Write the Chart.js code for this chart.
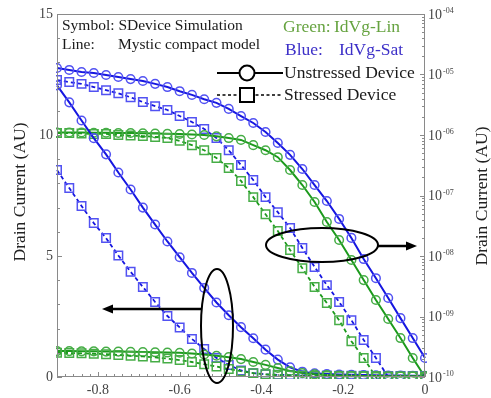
<!DOCTYPE html>
<html>
<head>
<meta charset="utf-8">
<script src="https://cdn.jsdelivr.net/npm/chart.js@4/dist/chart.umd.min.js"></script>
<style>
html,body{margin:0;padding:0;background:#fff;}
#wrap{width:491px;height:398px;}
</style>
</head>
<body>
<div id="wrap"><canvas id="c" width="491" height="398"></canvas></div>
<script>
// Gate voltage (V)
const vg = [-0.9,-0.87,-0.84,-0.81,-0.78,-0.75,-0.72,-0.69,-0.66,-0.63,-0.6,-0.57,-0.54,-0.51,-0.48,-0.45,-0.42,-0.39,-0.36,-0.33,-0.3,-0.27,-0.24,-0.21,-0.18,-0.15,-0.12,-0.09,-0.06,-0.03,0];

// Linear-scale currents (left axis, AU)
const satLinUnstressed = [12.05,11.35,10.6,9.87,9.2,8.45,7.75,7.0,6.3,5.6,4.95,4.3,3.68,3.08,2.55,2.06,1.6,1.13,0.72,0.4,0.22,0.15,0.12,0.1,0.09,0.08,0.07,0.06,0.06,0.05,0.05];
const satLinStressed   = [8.55,7.81,7.07,6.36,5.74,5.02,4.35,3.72,3.1,2.52,2.05,1.57,1.16,0.79,0.5,0.27,0.16,0.11,0.09,0.08,0.07,0.06,0.06,0.05,0.05,0.05,0.04,0.04,0.04,0.04,0.04];
const linLinUnstressed = [1.07,1.07,1.06,1.06,1.05,1.05,1.04,1.03,1.02,1.01,1.0,0.97,0.93,0.88,0.82,0.74,0.62,0.5,0.37,0.25,0.16,0.11,0.08,0.06,0.05,0.04,0.04,0.03,0.03,0.03,0.03];
const linLinStressed   = [1.0,0.99,0.98,0.96,0.94,0.91,0.88,0.85,0.81,0.76,0.7,0.62,0.53,0.43,0.33,0.24,0.16,0.11,0.08,0.06,0.05,0.04,0.04,0.03,0.03,0.03,0.03,0.02,0.02,0.02,0.02];

// Log-scale currents (right axis, AU)
const satLogUnstressed = [1.28e-5,1.19e-5,1.10e-5,1.06e-5,9.8e-6,9.1e-6,8.4e-6,7.8e-6,7.0e-6,6.2e-6,5.3e-6,4.6e-6,3.9e-6,3.4e-6,2.7e-6,2.06e-6,1.58e-6,1.12e-6,7.4e-7,4.7e-7,2.74e-7,1.49e-7,8.1e-8,4.1e-8,1.99e-8,8.9e-9,4.3e-9,2.02e-9,9.4e-10,4.4e-10,2.06e-10];
const satLogStressed   = [8.1e-6,7.5e-6,7.0e-6,6.2e-6,5.5e-6,4.9e-6,4.2e-6,3.5e-6,3.0e-6,2.59e-6,2.06e-6,1.64e-6,1.26e-6,8.9e-7,5.6e-7,3.19e-7,1.80e-7,9.4e-8,5.3e-8,2.9e-8,1.36e-8,6.6e-9,3.3e-9,1.74e-9,8.7e-10,4.1e-10,2.06e-10,1.0e-10,4.8e-11,2.3e-11,1.1e-11];
const linLogUnstressed = [1.1e-6,1.1e-6,1.1e-6,1.09e-6,1.09e-6,1.08e-6,1.08e-6,1.07e-6,1.06e-6,1.05e-6,1.04e-6,1.02e-6,1.0e-6,9.5e-7,8.9e-7,8.3e-7,6.8e-7,5.6e-7,4.3e-7,2.64e-7,1.49e-7,7.8e-8,3.65e-8,1.84e-8,8.6e-9,4.0e-9,1.87e-9,9.1e-10,4.4e-10,2.06e-10,1.0e-10];
const linLogStressed   = [1.08e-6,1.08e-6,1.06e-6,1.04e-6,1.04e-6,1.0e-6,9.8e-7,9.6e-7,9.3e-7,8.9e-7,8.0e-7,6.8e-7,5.6e-7,4.17e-7,2.85e-7,1.74e-7,9.4e-8,4.9e-8,2.59e-8,1.26e-8,6.3e-9,3.08e-9,1.67e-9,8.7e-10,3.9e-10,2.06e-10,1.0e-10,4.8e-11,2.3e-11,1.1e-11,5e-12];

// Ticks
const xTicks = [-0.8,-0.6,-0.4,-0.2,0];
const xTickLabels = ['-0.8','-0.6','-0.4','-0.2','0'];
const yTicks = [0,5,10,15];
const yTickLabels = ['0','5','10','15'];
const y2Ticks = [1e-10,1e-9,1e-8,1e-7,1e-6,1e-5,1e-4];
const y2TickExp = ['-10','-09','-08','-07','-06','-05','-04'];

const SERIF = "'Liberation Serif','Times New Roman',serif";
const BLUE_LINE = '#1616e0', BLUE_MK = '#5252f2';
const GREEN_LINE = '#1c9a1c', GREEN_MK = '#46ad46';

function pts(ys){ return vg.map((x,i)=>({x:x, y:ys[i]})); }
const CLIP = {left:1, right:2, top:0, bottom:2};
function ds(ys, axis, line, mk, stressed){
  return {
    data: pts(ys), yAxisID: axis,
    borderColor: line, borderWidth: stressed ? 1.8 : 2,
    borderDash: stressed ? [4,3] : [],
    pointStyle: stressed ? 'rect' : 'circle',
    pointRadius: stressed ? 6 : 4.3,
    pointBorderColor: mk, pointBackgroundColor: 'rgba(0,0,0,0)',
    pointBorderWidth: 1.5, tension: 0, clip: CLIP
  };
}

const deco = {
  id: 'deco',
  afterDraw(chart){
    const ctx = chart.ctx, a = chart.chartArea;
    const xs = chart.scales.x, ys = chart.scales.y, y2 = chart.scales.y2;
    ctx.save();
    // frame
    ctx.strokeStyle = '#8a8a8a'; ctx.lineWidth = 1;
    ctx.strokeRect(a.left+0.5, a.top+0.5, a.right-a.left-1, a.bottom-a.top-1);
    // inward ticks
    ctx.beginPath();
    for (let k=0;k<=45;k++){ const v=-0.9+k*0.02; const px=Math.round(xs.getPixelForValue(v))+0.5;
      const major = xTicks.some(t=>Math.abs(t-v)<1e-6); ctx.moveTo(px,a.bottom); ctx.lineTo(px,a.bottom-(major?5:3)); }
    for (let k=0;k<=15;k++){ const py=Math.round(ys.getPixelForValue(k))+0.5;
      const major = yTicks.includes(k); ctx.moveTo(a.left,py); ctx.lineTo(a.left+(major?5:3),py); }
    y2Ticks.forEach((t,i)=>{ const py=Math.round(y2.getPixelForValue(t))+0.5; ctx.moveTo(a.right,py); ctx.lineTo(a.right-5,py);
      if (i<y2Ticks.length-1) for (let m=2;m<=9;m++){ const q=Math.round(y2.getPixelForValue(t*m))+0.5; ctx.moveTo(a.right,q); ctx.lineTo(a.right-3,q);} });
    ctx.stroke();
    // right tick labels with superscript exponent
    ctx.fillStyle = '#444'; ctx.textBaseline = 'middle'; ctx.textAlign = 'left';
    y2Ticks.forEach((t,i)=>{ const py=y2.getPixelForValue(t);
      ctx.font = '14px '+SERIF; ctx.fillText('10', a.right+3, py+1);
      const w = ctx.measureText('10').width;
      ctx.font = '8px '+SERIF; ctx.fillText(y2TickExp[i], a.right+3+w+1, py-3); });
    // axis titles
    ctx.font = '17.5px '+SERIF; ctx.fillStyle = '#222'; ctx.textAlign='center'; ctx.textBaseline='middle';
    ctx.save(); ctx.translate(20, 192); ctx.rotate(-Math.PI/2); ctx.fillText('Drain Current (AU)',0,0); ctx.restore();
    ctx.save(); ctx.translate(482, 196); ctx.rotate(-Math.PI/2); ctx.fillText('Drain Current (AU)',0,0); ctx.restore();
    // annotation text
    ctx.textAlign='left'; ctx.textBaseline='middle';
    ctx.font = '15.5px '+SERIF; ctx.fillStyle='#1a1a1a';
    ctx.fillText('Symbol: SDevice Simulation', 62, 26);
    ctx.fillText('Line:', 62, 45);
    ctx.fillText('Mystic compact model', 118, 45);
    ctx.font = '17.5px '+SERIF;
    ctx.fillStyle = '#66a340'; ctx.fillText('Green:', 283, 27); ctx.fillText('IdVg-Lin', 334, 27);
    ctx.fillStyle = '#3d30c8'; ctx.fillText('Blue:', 285, 50); ctx.fillText('IdVg-Sat', 339, 50);
    ctx.fillStyle = '#1a1a1a';
    ctx.fillText('Unstressed Device', 284, 73);
    ctx.fillText('Stressed Device', 284, 95);
    // legend symbols
    ctx.strokeStyle='#000'; ctx.lineWidth=2;
    ctx.beginPath(); ctx.moveTo(217,73); ctx.lineTo(283,73); ctx.stroke();
    ctx.beginPath(); ctx.arc(247,73,7.5,0,Math.PI*2); ctx.fillStyle='#fff'; ctx.fill(); ctx.stroke();
    ctx.lineWidth=1.5; ctx.setLineDash([3,2.5]);
    ctx.beginPath(); ctx.moveTo(217,95); ctx.lineTo(283,95); ctx.stroke();
    ctx.setLineDash([]); ctx.lineWidth=2;
    ctx.fillStyle='#fff'; ctx.fillRect(240,88,14,14); ctx.strokeRect(240,88,14,14);
    // ellipses
    ctx.lineWidth=2;
    ctx.beginPath(); ctx.ellipse(322,245,56,17,0,0,Math.PI*2); ctx.stroke();
    ctx.beginPath(); ctx.ellipse(217,326,16,57,0,0,Math.PI*2); ctx.stroke();
    // arrows
    function arrow(x1,y1,x2,y2){
      const dir = Math.sign(x2-x1);
      ctx.lineWidth=2.5; ctx.beginPath(); ctx.moveTo(x1,y1); ctx.lineTo(x2-dir*8,y2); ctx.stroke();
      ctx.fillStyle='#000'; ctx.beginPath(); ctx.moveTo(x2,y2); ctx.lineTo(x2-dir*11,y2-4.5); ctx.lineTo(x2-dir*11,y2+4.5); ctx.closePath(); ctx.fill();
    }
    arrow(378,246,417,246);
    arrow(201,309,102,309);
    ctx.restore();
  }
};

new Chart(document.getElementById('c'), {
  type: 'line',
  data: { datasets: [
    ds(linLinStressed,'y',GREEN_LINE,GREEN_MK,true),
    ds(linLinUnstressed,'y',GREEN_LINE,GREEN_MK,false),
    ds(satLinStressed,'y',BLUE_LINE,BLUE_MK,true),
    ds(satLinUnstressed,'y',BLUE_LINE,BLUE_MK,false),
    ds(linLogStressed,'y2',GREEN_LINE,GREEN_MK,true),
    ds(linLogUnstressed,'y2',GREEN_LINE,GREEN_MK,false),
    ds(satLogStressed,'y2',BLUE_LINE,BLUE_MK,true),
    ds(satLogUnstressed,'y2',BLUE_LINE,BLUE_MK,false)
  ]},
  options: {
    responsive: false, animation: false, devicePixelRatio: 1,
    layout: { padding: {top:14, left:0, right:0, bottom:0} },
    plugins: { legend: {display:false}, tooltip: {enabled:false} },
    scales: {
      x: { type:'linear', min:-0.9, max:0, position:'bottom',
        grid:{display:false, drawTicks:false}, border:{display:false},
        afterBuildTicks: s => { s.ticks = xTicks.map(v=>({value:v})); },
        ticks:{ padding:5, color:'#444', font:{family:SERIF, size:14}, maxRotation:0,
          callback:(v,i)=>xTickLabels[i] },
        afterFit: s => { s.height = 21; } },
      y: { type:'linear', min:0, max:15, position:'left',
        grid:{display:false, drawTicks:false}, border:{display:false},
        afterBuildTicks: s => { s.ticks = yTicks.map(v=>({value:v})); },
        ticks:{ padding:4, color:'#444', font:{family:SERIF, size:14},
          callback:(v,i)=>yTickLabels[i] },
        afterFit: s => { s.width = 57; } },
      y2: { type:'logarithmic', min:1e-10, max:1e-4, position:'right',
        grid:{display:false, drawTicks:false}, border:{display:false},
        ticks:{ display:false },
        afterFit: s => { s.width = 66; } }
    }
  },
  plugins: [deco]
});
</script>
</body>
</html>
